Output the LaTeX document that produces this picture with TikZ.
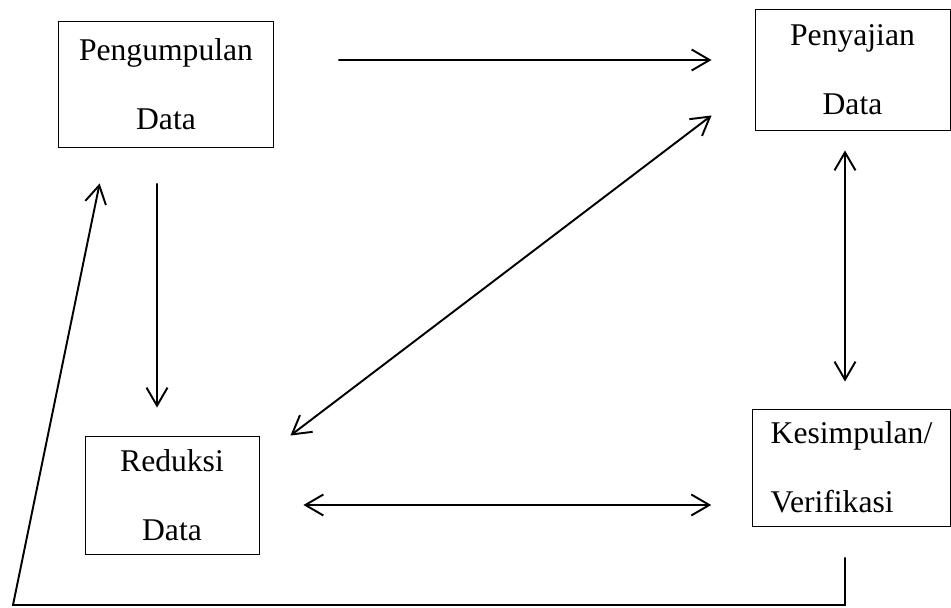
\documentclass[tikz,border=0pt]{standalone}
\usepackage{fontspec}
\setmainfont{Liberation Serif}
\usetikzlibrary{arrows.meta}
\begin{document}
\begin{tikzpicture}[x=0.02cm,y=-0.02cm,
    box/.style={draw,line width=0.55pt,align=center,inner sep=0pt,
      font=\fontsize{18}{39}\selectfont},
    barb/.style={Straight Barb[length=0.36cm,width=0.42cm]},
    arr/.style={line width=1.1pt,-{Straight Barb[length=0.36cm,width=0.42cm]}},
    dbl/.style={line width=1.1pt,{Straight Barb[length=0.36cm,width=0.42cm]}-{Straight Barb[length=0.36cm,width=0.42cm]}}]
  \useasboundingbox (0,0) rectangle (951,608);
  \draw
    (166,84) node[box,minimum width=4.32cm,minimum height=2.52cm] (pengumpulan){Pengumpulan\\Data}
    (852.5,69.5) node[box,minimum width=3.9cm,minimum height=2.42cm] (penyajian){Penyajian\\Data}
    (172,495) node[box,minimum width=3.48cm,minimum height=2.36cm] (reduksi){Reduksi\\Data}
    (851.5,467.5) node[box,align=left,inner xsep=0.36cm,minimum height=2.34cm] (kesimpulan){Kesimpulan/\\Verifikasi};
  \coordinate (loopA) at (845,605);
  \coordinate (loopB) at (13,605);
  \begin{scope}[arr]
    \draw[shorten <=1.28cm,shorten >=0.86cm] ([yshift=0.48cm]pengumpulan.east) -- ([yshift=0.19cm]penyajian.west);
    \draw[shorten <=0.72cm,shorten >=0.56cm] ([xshift=-0.18cm]pengumpulan.south) -- ([xshift=-0.3cm]reduksi.north);
    \draw[shorten <=0.62cm,shorten >=0.735cm] ([xshift=-0.13cm]kesimpulan.south) -- (loopA) -- (loopB) -- ([xshift=0.99cm]pengumpulan.south west);
  \end{scope}
  \begin{scope}[dbl]
    \draw ([xshift=0.62cm]reduksi.north east) -- ([xshift=-0.86cm,yshift=0.3cm]penyajian.south west);
    \draw[shorten <=0.4cm,shorten >=0.54cm] ([xshift=-0.15cm]penyajian.south) -- ([xshift=-0.13cm]kesimpulan.north);
    \draw[shorten <=0.88cm,shorten >=0.82cm] ([yshift=-0.2cm]reduksi.east) -- ([yshift=-0.75cm]kesimpulan.west);
  \end{scope}
\end{tikzpicture}
\end{document}
